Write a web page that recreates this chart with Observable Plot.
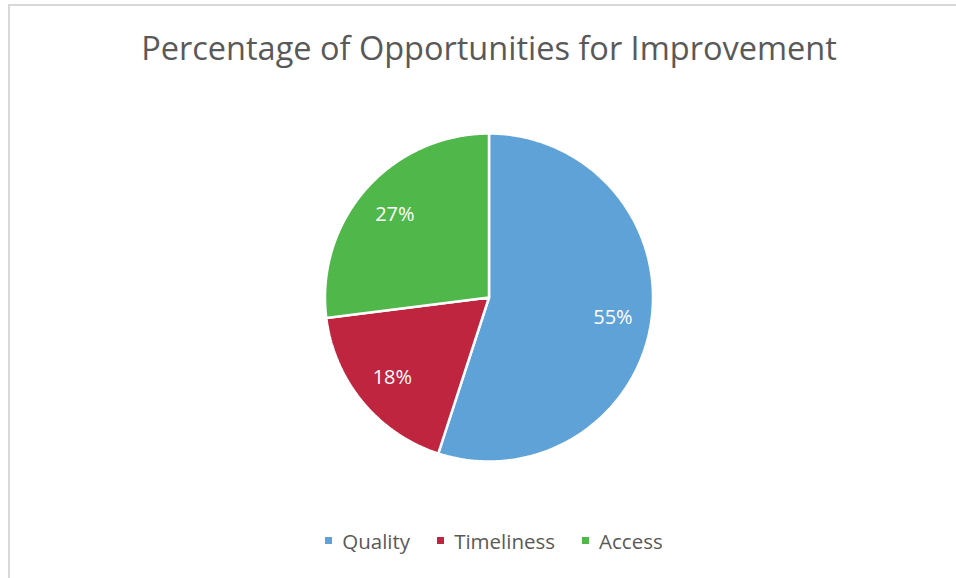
<!DOCTYPE html>
<html>
<head>
<meta charset="utf-8">
<script src="https://cdn.jsdelivr.net/npm/d3@7"></script>
<script src="https://cdn.jsdelivr.net/npm/@observablehq/plot@0.6"></script>
<style>
  html, body { margin: 0; padding: 0; background: #fff; }
  #wrap { position: relative; width: 956px; height: 578px; overflow: hidden; background: #fff; font-family: "Open Sans", sans-serif; }
  #frame { position: absolute; left: 8px; top: 4px; width: 1000px; height: 1000px; border-left: 2px solid #d9d9d9; border-top: 2px solid #d9d9d9; }
  #title { position: absolute; left: 0; width: 978px; top: 25px; text-align: center; font-size: 32.5px; color: #595959; white-space: nowrap; }
  #chart { position: absolute; left: 0; top: 97px; }
  #legend { position: absolute; left: 0; width: 1015px; top: 524px; display: flex; justify-content: center; }
  #legend > div { font-family: "Open Sans", sans-serif !important; font-size: 20.5px !important; color: #595959 !important; }
  #legend span { margin-right: 27px !important; }
  #legend svg { margin-right: 10px !important; }
</style>
</head>
<body>
<div id="wrap">
  <div id="frame"></div>
  <div id="title">Percentage of Opportunities for Improvement</div>
  <div id="chart"></div>
  <div id="legend"></div>
</div>
<script>
const categories = ["Quality", "Timeliness", "Access"];
const values = [55, 18, 27];
const labels = ["55%", "18%", "27%"];
const colors = ["#5FA2D8", "#C0253F", "#50B84A"];

const rows = categories.map((c, i) => ({category: c, value: values[i], label: labels[i]}));
const arcs = d3.pie().sort(null).value(d => d.value)(rows);

// slice outlines in unit-circle coordinates (angle measured clockwise from top)
const slicePoints = [];
for (const a of arcs) {
  const n = 240;
  slicePoints.push({category: a.data.category, x: 0, y: 0});
  for (let k = 0; k <= n; k++) {
    const t = a.startAngle + (a.endAngle - a.startAngle) * k / n;
    slicePoints.push({category: a.data.category, x: Math.sin(t), y: Math.cos(t)});
  }
  slicePoints.push({category: a.data.category, x: 0, y: 0});
}
const labelPoints = arcs.map(a => {
  const m = (a.startAngle + a.endAngle) / 2;
  return {label: a.data.label, x: 0.765 * Math.sin(m), y: 0.765 * Math.cos(m)};
});

const cx = 488.5, cy = 200, r = 164;
const plot = Plot.plot({
  width: 956,
  height: 400,
  margin: 0,
  x: {domain: [-1, 1], range: [cx - r, cx + r], axis: null},
  y: {domain: [-1, 1], range: [cy + r, cy - r], axis: null},
  color: {domain: categories, range: colors},
  style: {background: "transparent", overflow: "visible"},
  marks: [
    Plot.line(slicePoints, {x: "x", y: "y", z: "category", fill: "category", stroke: "white", strokeWidth: 2.5, strokeLinejoin: "miter"}),
    Plot.text(labelPoints, {x: "x", y: "y", text: "label", fill: "white", fontSize: 20, fontFamily: "Open Sans"})
  ]
});
document.getElementById("chart").appendChild(plot);

const leg = plot.legend("color", {swatchSize: 7, swatchWidth: 7, swatchHeight: 7});
document.getElementById("legend").appendChild(leg);
</script>
</body>
</html>
